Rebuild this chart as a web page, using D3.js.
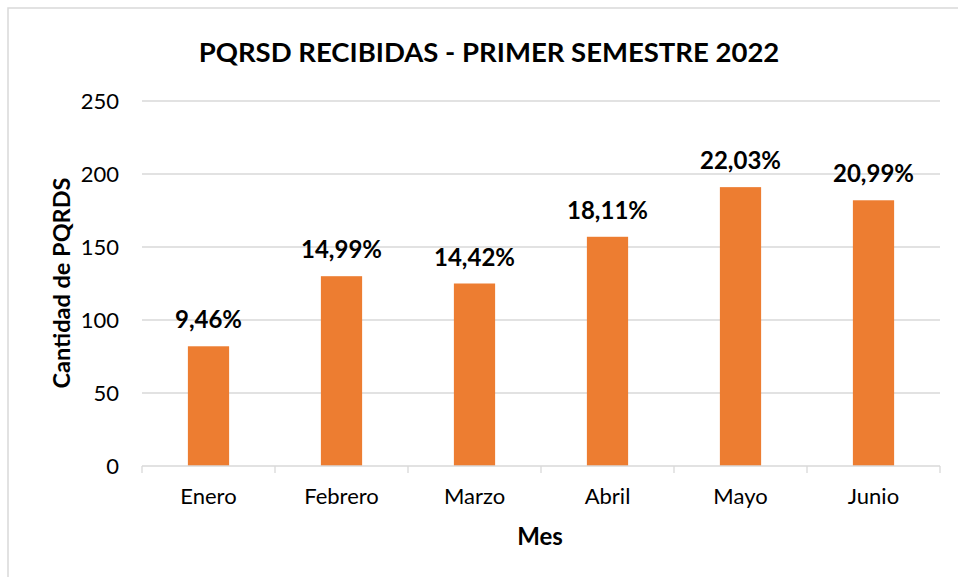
<!DOCTYPE html>
<html>
<head>
<meta charset="utf-8">
<script src="https://cdn.jsdelivr.net/npm/d3@7"></script>
<style>
  html, body { margin: 0; padding: 0; background: #fff; }
  svg { display: block; font-family: Lato, "Open Sans", sans-serif; }
  .grid line { stroke: #d9d9d9; stroke-width: 1.3; }
  .axis path, .axis line { stroke: #d9d9d9; stroke-width: 1.3; }
  .axis text { fill: #000; font-size: 22px; }
  .lbl { font-weight: bold; font-size: 24px; fill: #000; }
</style>
</head>
<body>
<div id="chart"></div>
<script>
// months and received counts; labels are the share of the total
const months = ["Enero", "Febrero", "Marzo", "Abril", "Mayo", "Junio"];
const counts = [82, 130, 125, 157, 191, 182];
const shares = ["9,46%", "14,99%", "14,42%", "18,11%", "22,03%", "20,99%"];
const yTicks = [0, 50, 100, 150, 200, 250];

const W = 958, H = 577;
const margin = { top: 101, right: 18, bottom: 111, left: 142 };
const width = W - margin.left - margin.right;
const height = H - margin.top - margin.bottom;

const svg = d3.select("#chart").append("svg")
  .attr("width", W).attr("height", H);

// light frame (only top and left edges show in the picture)
svg.append("rect")
  .attr("x", 8).attr("y", 8).attr("width", W + 10).attr("height", H + 10)
  .attr("fill", "none").attr("stroke", "#d9d9d9").attr("stroke-width", 1.5);

const g = svg.append("g").attr("transform", `translate(${margin.left},${margin.top})`);

const x = d3.scaleBand().domain(months).range([0, width]).paddingInner(0.69).paddingOuter(0.345);
const y = d3.scaleLinear().domain([0, 250]).range([height, 0]);

// horizontal gridlines
g.append("g").attr("class", "grid")
  .selectAll("line").data(yTicks.slice(1)).join("line")
  .attr("x1", 0).attr("x2", width)
  .attr("y1", d => y(d)).attr("y2", d => y(d));

// y labels (no axis line)
g.append("g").selectAll("text").data(yTicks).join("text")
  .attr("x", -23).attr("y", d => y(d)).attr("dy", "0.35em")
  .attr("text-anchor", "end").attr("font-size", 22).attr("fill", "#000")
  .text(d => d);

// bars
g.selectAll("rect.bar").data(months).join("rect")
  .attr("class", "bar")
  .attr("x", d => x(d))
  .attr("width", x.bandwidth())
  .attr("y", (d, i) => y(counts[i]))
  .attr("height", (d, i) => height - y(counts[i]))
  .attr("fill", "#ed7d31");

// x axis with tick marks at category boundaries
const step = width / months.length;
const xa = g.append("g").attr("class", "axis").attr("transform", `translate(0,${height})`);
xa.append("line").attr("x1", 0).attr("x2", width).attr("y1", 0).attr("y2", 0);
xa.selectAll("line.tk").data(d3.range(months.length + 1)).join("line")
  .attr("class", "tk")
  .attr("x1", i => i * step).attr("x2", i => i * step)
  .attr("y1", 0).attr("y2", 7);
xa.selectAll("text").data(months).join("text")
  .attr("x", d => x(d) + x.bandwidth() / 2).attr("y", 38)
  .attr("text-anchor", "middle")
  .text(d => d);

// data labels
g.selectAll("text.lbl").data(months).join("text")
  .attr("class", "lbl")
  .attr("x", d => x(d) + x.bandwidth() / 2)
  .attr("y", (d, i) => y(counts[i]) - 18)
  .attr("text-anchor", "middle")
  .text((d, i) => shares[i]);

// titles
svg.append("text")
  .attr("x", 489).attr("y", 62).attr("text-anchor", "middle")
  .attr("font-size", 27.5).attr("font-weight", "bold").attr("fill", "#000")
  .text("PQRSD RECIBIDAS - PRIMER SEMESTRE 2022");

svg.append("text")
  .attr("x", 540).attr("y", 545).attr("text-anchor", "middle")
  .attr("font-size", 24).attr("font-weight", "bold").attr("fill", "#000")
  .text("Mes");

svg.append("text")
  .attr("transform", "translate(70,283) rotate(-90)")
  .attr("text-anchor", "middle")
  .attr("font-size", 23.5).attr("font-weight", "bold").attr("fill", "#000")
  .text("Cantidad de PQRDS");
</script>
</body>
</html>
